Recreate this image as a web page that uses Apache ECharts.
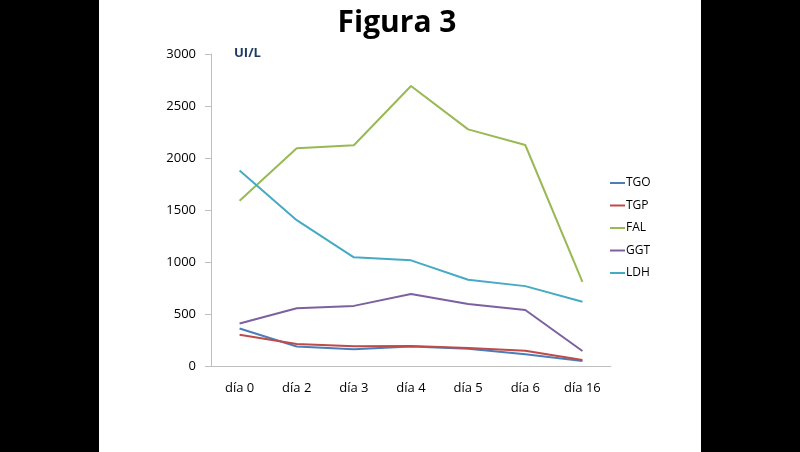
<!DOCTYPE html>
<html lang="es">
<head>
    <meta charset="UTF-8">
    <title>Figura 3</title>
    <script src="https://cdn.jsdelivr.net/npm/echarts@6/dist/echarts.min.js"></script>
    <style>
        html, body { margin: 0; padding: 0; background: #000; }
    </style>
</head>
<body>
    <div id="main" style="width: 800px;height:452px;"></div>
    <script type="text/javascript">
        // datos
        var dias = ['día 0', 'día 2', 'día 3', 'día 4', 'día 5', 'día 6', 'día 16'];
        var tgo = [360, 188, 160, 188, 167, 112, 48];
        var tgp = [301, 212, 190, 192, 173, 147, 58];
        var fal = [1588, 2093, 2122, 2692, 2275, 2125, 808];
        var ggt = [408, 555, 578, 692, 597, 538, 144];
        var ldh = [1880, 1402, 1045, 1016, 830, 768, 617];

        var fuente = '"Open Sans", "Noto Sans", sans-serif';
        var myChart = echarts.init(document.getElementById('main'));

        function serie(nombre, datos, color) {
            return {
                name: nombre,
                type: 'line',
                data: datos,
                symbol: 'none',
                lineStyle: { width: 2, color: color },
                itemStyle: { color: color }
            };
        }

        myChart.setOption({
            animation: false,
            backgroundColor: '#000',
            graphic: [
                {
                    type: 'rect',
                    z: -10,
                    shape: { x: 99, y: 0, width: 602, height: 452 },
                    style: { fill: '#fff' }
                },
                {
                    type: 'text',
                    left: 234,
                    top: 47,
                    style: {
                        text: 'UI/L',
                        fill: '#1f3a66',
                        font: 'bold 13px ' + fuente
                    }
                }
            ],
            title: {
                text: 'Figura 3',
                left: 392,
                top: 3,
                textAlign: 'center',
                textStyle: {
                    fontFamily: fuente,
                    fontWeight: 'bold',
                    fontSize: 30,
                    color: '#000'
                }
            },
            legend: {
                orient: 'vertical',
                left: 605,
                top: 172,
                itemWidth: 15,
                itemHeight: 2,
                itemGap: 10.5,
                icon: 'rect',
                textStyle: { fontFamily: fuente, fontSize: 12, color: '#000', padding: [0, 0, 0, -4] },
                data: ['TGO', 'TGP', 'FAL', 'GGT', 'LDH']
            },
            grid: {
                left: 211,
                right: 189,
                top: 54,
                bottom: 86
            },
            xAxis: {
                type: 'category',
                data: dias,
                boundaryGap: true,
                axisLine: { lineStyle: { color: '#bfbfbf' } },
                axisTick: { length: 6, lineStyle: { color: '#bfbfbf' } },
                axisLabel: { fontFamily: fuente, fontSize: 13, color: '#000', margin: 16 }
            },
            yAxis: {
                type: 'value',
                min: 0,
                max: 3000,
                interval: 500,
                axisLine: { show: true, lineStyle: { color: '#bfbfbf' } },
                axisTick: { show: true, length: 6, lineStyle: { color: '#bfbfbf' } },
                splitLine: { show: false },
                axisLabel: {
                    fontFamily: fuente, fontSize: 13, color: '#000', margin: 15,
                    formatter: function (v) { return String(v); }
                }
            },
            series: [
                serie('TGO', tgo, '#4a7ebb'),
                serie('TGP', tgp, '#be4b48'),
                serie('FAL', fal, '#98b954'),
                serie('GGT', ggt, '#7d60a0'),
                serie('LDH', ldh, '#46aac5')
            ]
        });
    </script>
</body>
</html>
